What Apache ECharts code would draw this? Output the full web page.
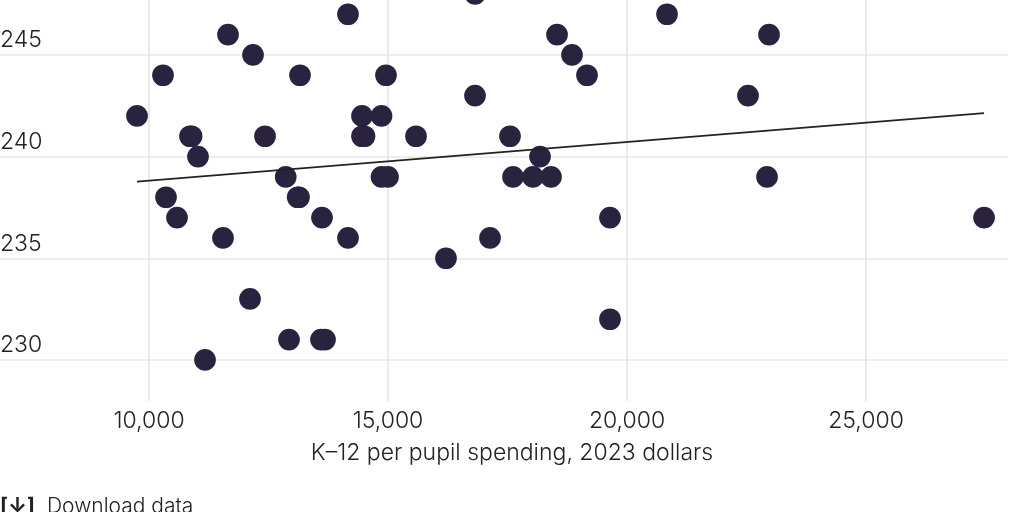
<!DOCTYPE html>
<html><head><meta charset="utf-8">
<style>html,body{margin:0;padding:0;background:#fff}#c{width:1024px;height:512px}</style>
<script src="https://cdn.jsdelivr.net/npm/echarts@6/dist/echarts.min.js"></script>
</head><body><div id="c"></div>
<script>
const spending = [9749,10293,10858,10891,11025,10356,10586,11548,11653,12176,12427,13159,12860,13110,13138,13619,14163,14163,12113,12929,11172,13598,13682,14456,14456,14508,14864,14958,14864,15000,15586,16213,16820,16820,17134,17552,17615,18033,18180,18410,18536,18849,19163,19644,19644,20837,22531,22929,22971,27469];
const scores   = [242,244,241,241,240,238,237,236,246,245,241,244,239,238,238,237,236,247,233,231,230,231,231,242,241,241,242,244,239,239,241,235,248,243,236,241,239,239,240,239,246,245,244,237,232,247,243,239,246,237];
const trendX = [9749,27469];
const trendY = [238.77,242.14];
const xTicks = [10000,15000,20000,25000];
const yTicks = [230,235,240,245];
const xTitle = 'K–12 per pupil spending, 2023 dollars';
const downloadText = 'Download data';
const font = 'Inter, sans-serif';
const chart = echarts.init(document.getElementById('c'), null, {renderer:'canvas'});
chart.setOption({
  animation:false,
  backgroundColor:'#fff',
  grid:{left:0,right:16,top:0,bottom:111,outerBoundsMode:'none'},
  xAxis:{type:'value',min:6883,max:27970,
    axisLine:{show:false},
    axisTick:{show:false,customValues:xTicks},
    axisLabel:{customValues:xTicks,fontFamily:font,fontSize:23,fontWeight:300,color:'#222',margin:9,
      formatter:v=>v.toLocaleString('en-US')},
    splitLine:{show:true,lineStyle:{color:'#e3e3e3',width:1.5}}},
  yAxis:{type:'value',min:227.98,max:247.7,
    axisLine:{show:false},
    axisTick:{show:false,customValues:yTicks},
    axisLabel:{customValues:yTicks,inside:true,margin:0,fontFamily:font,fontSize:23,fontWeight:300,color:'#222',verticalAlign:'bottom',padding:[0,0,3,0]},
    splitLine:{show:true,lineStyle:{color:'#e8e8e8',width:1.5}}},
  graphic:[
    {type:'text',left:'center',top:442,style:{text:xTitle,font:'300 23px '+font,fill:'#222'}},
    {type:'text',left:0,top:496,style:{text:'[↓]',font:'bold 21px '+font,fill:'#222'}},
    {type:'text',left:47,top:496,style:{text:downloadText,font:'300 21px '+font,fill:'#222'}}
  ],
  series:[
    {type:'scatter',clip:false,symbolSize:21.7,itemStyle:{color:'#2a2340',opacity:1},z:2,
      data:spending.map((x,i)=>[x,scores[i]])},
    {type:'line',clip:false,symbol:'none',lineStyle:{color:'#222',width:1.7},z:3,
      data:trendX.map((x,i)=>[x,trendY[i]])}
  ]
});
</script></body></html>
